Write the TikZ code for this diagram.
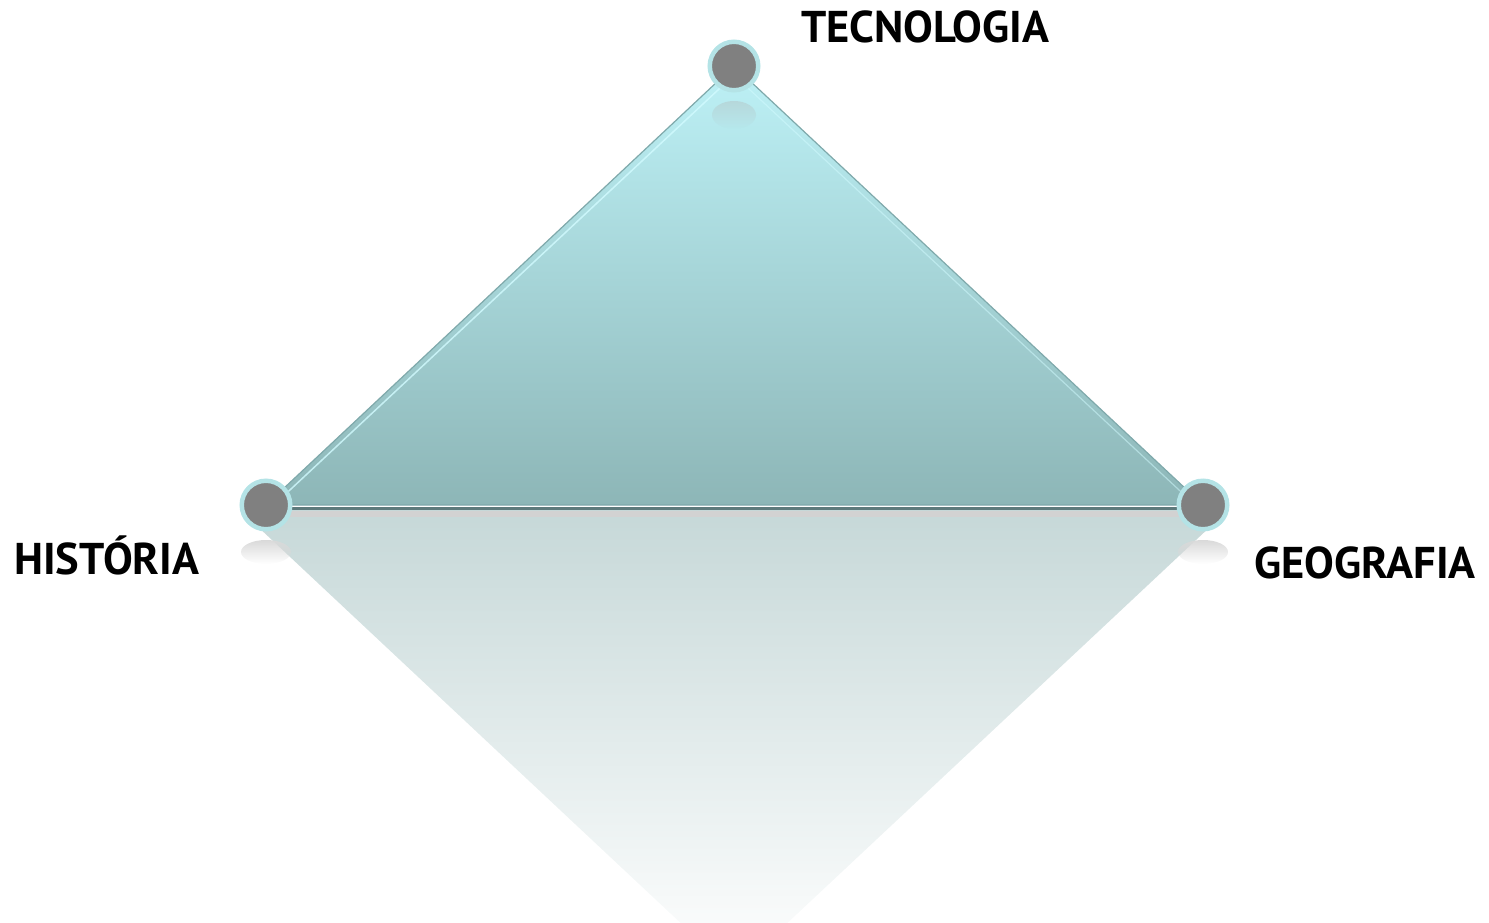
\documentclass[tikz,border=0pt]{standalone}
\usepackage{fontspec}
\setmainfont{PT Sans}
\usetikzlibrary{fadings,calc}
\definecolor{ringc}{HTML}{B4E3E6}
\definecolor{dotc}{HTML}{808080}
\definecolor{toptri}{HTML}{BDF1F6}
\definecolor{bottri}{HTML}{8DB6B7}
\definecolor{edgec}{HTML}{7FA9AB}
\definecolor{basec}{HTML}{5E7A7C}
\definecolor{refltop}{HTML}{C6D8D8}
\definecolor{hilite}{HTML}{D2FBFF}
\begin{document}
\begin{tikzpicture}[x=1pt,y=-1pt,
  vertex/.style={circle,fill=dotc,draw=ringc,line width=4.5pt,minimum size=48.5pt,inner sep=0pt},
  lbl/.style={font=\fontsize{44.5}{52}\selectfont\bfseries,text=black,inner sep=0pt,anchor=base west}]
\useasboundingbox (0,0) rectangle (1489,922);
\coordinate (T) at (734,66);
\coordinate (L) at (266,505);
\coordinate (R) at (1203,505);
% reflection
\begin{scope}
\clip (0,510) rectangle (1489,922);
\shade[top color=refltop,bottom color=white]
  (240,510) -- (1228,510) -- (734,973) -- cycle;
\end{scope}
% reflection blobs under side circles
\fill[gray!30,path fading=south] (266,552) ellipse (25pt and 12pt);
\fill[gray!30,path fading=south] (1203,552) ellipse (25pt and 12pt);
% triangle
\shade[top color=toptri,bottom color=bottri,draw=edgec,line width=1.2pt] (T) -- (R) -- (L) -- cycle;
\draw[hilite,line width=1.5pt,opacity=0.8] ($(T)+(0,9)$) -- ($(L)+(10,-2)$);
\draw[hilite,line width=1.2pt,opacity=0.5] ($(T)+(0,9)$) -- ($(R)+(-10,-2)$);
% faint reflection of top circle inside
\fill[gray!60,opacity=0.35,path fading=south] (734,115) ellipse (22pt and 14pt);
% base line
\draw[gray!35,line width=6pt] (266,514) -- (1203,514);
\draw[basec,line width=3pt] (266,508) -- (1203,508);
% vertices
\node[vertex] (t) at (T) {};
\node[vertex] (l) at (L) {};
\node[vertex] (r) at (R) {};
% labels
\node[lbl] (tl) at (801,42) {TECNOLOGIA};
\node[lbl] (hl) at (14,574) {HISTÓRIA};
\node[lbl] (gl) at (1254,578) {GEOGRAFIA};
\end{tikzpicture}
\end{document}
